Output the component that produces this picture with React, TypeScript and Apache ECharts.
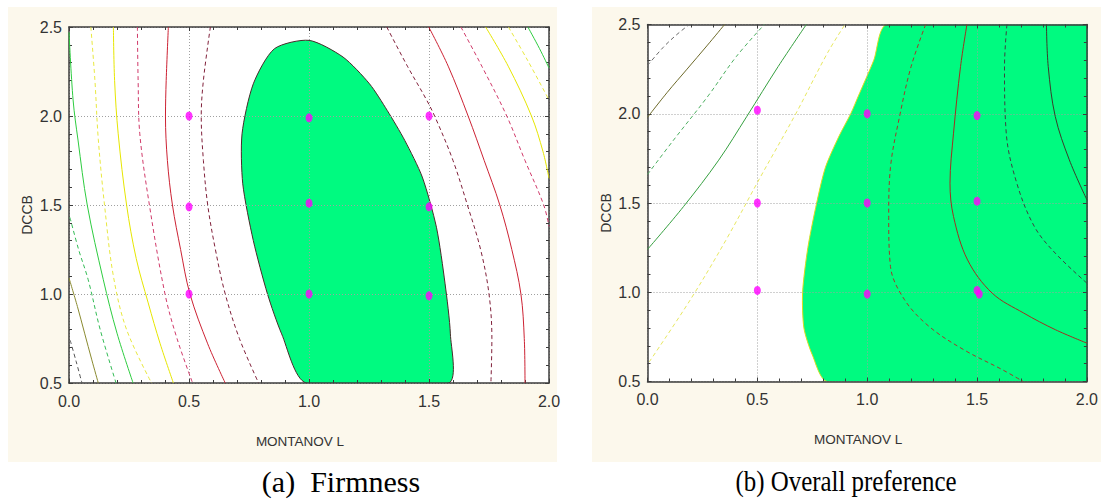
import React, { useEffect, useRef } from "react";
import * as echarts from "echarts";

// ---- axis ranges / ticks ----
const X_MIN = 0;
const X_MAX = 2;
const Y_MIN = 0.5;
const Y_MAX = 2.5;
const TICK_STEP = 0.5;
const X_NAME = "MONTANOV L";
const Y_NAME = "DCCB";
const CAPTION_A = "(a)  Firmness";
const CAPTION_B = "(b) Overall preference";

// ---- (a) Firmness: contour lines [x, y] ----
const firmOliveSolid = [[0, 1.09], [0.035, 0.93], [0.065, 0.78], [0.095, 0.63], [0.122, 0.5]];
const firmGreyDashed = [[0.005, 0.74], [0.03, 0.62], [0.054, 0.5]];
const firmGreenSolid = [[0, 2.47], [0.017, 2.09], [0.0375, 1.865], [0.076, 1.5], [0.143, 1.08], [0.2, 0.78], [0.267, 0.5]];
const firmGreenDashed = [[0.004, 1.43], [0.04, 1.25], [0.08, 1.08], [0.13, 0.8], [0.196, 0.5]];
const firmYellowDashed = [[0.091, 2.5], [0.108, 2.2], [0.122, 1.87], [0.148, 1.5], [0.185, 1.1], [0.24, 0.8], [0.344, 0.5]];
const firmYellowSolid = [[0.185, 2.5], [0.19, 2.2], [0.205, 1.9], [0.24, 1.5], [0.28, 1.2], [0.33, 0.95], [0.38, 0.72], [0.435, 0.5]];
const firmPinkDashed = [[0.285, 2.5], [0.288, 2.2], [0.295, 1.9], [0.335, 1.5], [0.4, 1.0], [0.45, 0.75], [0.515, 0.5]];
const firmRedSolid = [[0.414, 2.5], [0.405, 2.2], [0.402, 2.0], [0.41, 1.75], [0.431, 1.5], [0.465, 1.25], [0.504, 1.0], [0.578, 0.72], [0.651, 0.5]];
const firmMaroonDashed = [[0.589, 2.5], [0.56, 2.2], [0.551, 2.0], [0.56, 1.75], [0.578, 1.5], [0.61, 1.25], [0.651, 1.0], [0.71, 0.75], [0.79, 0.5]];
const firmMaroonDashed2 = [[1.324, 2.5], [1.41, 2.28], [1.49, 2.09], [1.53, 1.98], [1.6, 1.75], [1.66, 1.5], [1.715, 1.25], [1.75, 1.0], [1.762, 0.75], [1.758, 0.5]];
const firmRedSolid2 = [[1.499, 2.5], [1.58, 2.28], [1.663, 2.0], [1.73, 1.75], [1.795, 1.5], [1.845, 1.25], [1.883, 1.0], [1.897, 0.75], [1.9, 0.5]];
const firmPinkDashed2 = [[1.633, 2.5], [1.72, 2.28], [1.824, 2.0], [1.9, 1.75], [1.978, 1.5], [2.0, 1.38]];
const firmYellowSolid2 = [[1.736, 2.5], [1.83, 2.28], [1.927, 2.0], [1.975, 1.8], [2.0, 1.65]];
const firmYellowDashed2 = [[1.831, 2.5], [1.912, 2.31], [2.0, 2.09]];
const firmGreenSolid2 = [[1.912, 2.5], [1.96, 2.38], [2.0, 2.27]];
// optimum (filled) region of (a)
const firmRegion = [
  [0.856, 2.378], [1.0, 2.425], [1.142, 2.331], [1.252, 2.181], [1.326, 2.031], [1.399, 1.863],
  [1.472, 1.657], [1.531, 1.375], [1.567, 1.057], [1.589, 0.776], [1.582, 0.5], [0.988, 0.5],
  [0.886, 0.776], [0.827, 1.0], [0.768, 1.3], [0.724, 1.619], [0.721, 1.9], [0.768, 2.181],
];
const firmPoints = [[0.5, 2.0], [1.0, 1.99], [1.5, 2.0], [0.5, 1.49], [1.0, 1.51], [1.5, 1.49], [0.5, 1.0], [1.0, 1.0], [1.5, 0.99]];

// ---- (b) Overall preference ----
const prefOliveSolid = [[0, 1.98], [0.09, 2.12], [0.18, 2.25], [0.27, 2.38], [0.351, 2.5]];
const prefGreyDashed = [[0, 2.27], [0.07, 2.37], [0.13, 2.44], [0.19, 2.5]];
const prefGreenDashed = [[0, 1.66], [0.117, 1.85], [0.276, 2.1], [0.404, 2.32], [0.532, 2.5]];
const prefGreenSolid = [[0, 1.24], [0.164, 1.48], [0.324, 1.74], [0.452, 1.985], [0.595, 2.265], [0.723, 2.5]];
const prefYellowDashed = [[0.008, 0.61], [0.196, 0.96], [0.356, 1.29], [0.516, 1.65], [0.675, 2.0], [0.819, 2.34], [0.899, 2.5]];
const prefBoundary = [[1.09, 2.5], [1.03, 2.3], [0.96, 2.1], [0.925, 2.0], [0.87, 1.87], [0.81, 1.7], [0.77, 1.5], [0.73, 1.25], [0.706, 1.0], [0.712, 0.8], [0.75, 0.65], [0.819, 0.5]];
const prefRedDashed = [[1.266, 2.5], [1.2, 2.265], [1.15, 2.0], [1.106, 1.7], [1.098, 1.42], [1.106, 1.144], [1.17, 0.958], [1.282, 0.808], [1.441, 0.677], [1.617, 0.565], [1.71, 0.5]];
const prefRedSolid = [[1.454, 2.5], [1.425, 2.265], [1.393, 1.891], [1.377, 1.611], [1.393, 1.424], [1.457, 1.181], [1.569, 0.995], [1.713, 0.883], [1.857, 0.79], [2.0, 0.715]];
const prefDarkDashed = [[1.636, 2.5], [1.625, 2.265], [1.633, 1.891], [1.681, 1.611], [1.761, 1.368], [1.856, 1.219], [2.0, 1.051]];
const prefDarkSolid = [[1.816, 2.5], [1.824, 2.265], [1.856, 1.985], [1.92, 1.742], [2.0, 1.518]];
const prefPoints = [[0.5, 2.02], [1.0, 2.0], [1.5, 1.99], [0.5, 1.5], [1.0, 1.5], [1.5, 1.51], [0.5, 1.01], [1.0, 0.99], [1.5, 1.01], [1.51, 0.99]];

// ---- styles ----
const SANS = "'Liberation Sans', Arial, sans-serif";
const SERIF = "'Liberation Serif', 'Times New Roman', serif";
const AXIS_COLOR = "#3c3c3c";
const GRID_COLOR = "#a0a0a0";
const FILL = "#00fa80";
const CREAM = "#fcf8ec";

function xAxes(gridIndex: number) {
  const common = {
    type: "value", gridIndex, min: X_MIN, max: X_MAX, interval: TICK_STEP, z: 3,
    axisLine: { show: true, onZero: false, lineStyle: { color: AXIS_COLOR, width: 1.5 } },
    axisTick: { show: true, inside: true, length: 4, lineStyle: { color: AXIS_COLOR } },
    minorTick: { show: true, splitNumber: 5, length: 3, lineStyle: { color: AXIS_COLOR } },
  };
  return [
    {
      ...common, position: "bottom",
      splitLine: { show: true, lineStyle: { color: GRID_COLOR, type: [1, 2], width: 1 } },
      axisLabel: { formatter: (v: number) => v.toFixed(1), fontFamily: SANS, fontSize: 16, color: "#333", margin: 10 },
      name: X_NAME, nameLocation: "middle", nameGap: 51,
      nameTextStyle: { fontFamily: SANS, fontSize: 13.5, color: "#333", padding: [0, 18, 0, 0] },
    },
    { ...common, position: "top", axisLabel: { show: false }, splitLine: { show: false } },
  ];
}

function yAxes(gridIndex: number) {
  const common = {
    type: "value", gridIndex, min: Y_MIN, max: Y_MAX, interval: TICK_STEP, z: 3,
    axisLine: { show: true, onZero: false, lineStyle: { color: AXIS_COLOR, width: 1.5 } },
    axisTick: { show: true, inside: true, length: 4, lineStyle: { color: AXIS_COLOR } },
    minorTick: { show: true, splitNumber: 5, length: 3, lineStyle: { color: AXIS_COLOR } },
  };
  return [
    {
      ...common, position: "left",
      splitLine: { show: true, lineStyle: { color: GRID_COLOR, type: [1, 2], width: 1 } },
      axisLabel: { formatter: (v: number) => v.toFixed(1), fontFamily: SANS, fontSize: 16, color: "#333", margin: 7 },
      name: Y_NAME, nameLocation: "middle", nameGap: 35, nameRotate: 90,
      nameTextStyle: { fontFamily: SANS, fontSize: 14, color: "#333", padding: [0, 20, 0, 0] },
    },
    { ...common, position: "right", axisLabel: { show: false }, splitLine: { show: false } },
  ];
}

function contour(data: number[][], color: string, dashed: boolean, axisIndex: number) {
  return {
    type: "line", data, xAxisIndex: axisIndex, yAxisIndex: axisIndex, showSymbol: false, symbol: "none",
    smooth: 0.35, clip: true, silent: true, z: 5,
    lineStyle: { color, width: 1, type: dashed ? [4, 3] : "solid" },
  };
}

function region(points: number[][], axisIndex: number, stroke: string) {
  return {
    type: "custom", xAxisIndex: axisIndex, yAxisIndex: axisIndex, clip: true, silent: true, z: 2,
    data: [points[0]],
    renderItem: (_p: any, api: any) => ({
      type: "polygon",
      shape: { points: points.map((pt) => api.coord(pt)), smooth: 0.25 },
      style: { fill: FILL, stroke, lineWidth: 1 },
    }),
  };
}

function dots(data: number[][], axisIndex: number) {
  return {
    type: "scatter", data, xAxisIndex: axisIndex, yAxisIndex: axisIndex, symbol: "circle",
    symbolSize: [7, 9], itemStyle: { color: "#ff00ff" }, z: 6, silent: true,
  };
}

const option: any = {
  animation: false,
  backgroundColor: "#ffffff",
  graphic: [
    { type: "rect", z: -10, silent: true, shape: { x: 8, y: 7, width: 549, height: 455 }, style: { fill: CREAM } },
    { type: "rect", z: -10, silent: true, shape: { x: 592, y: 7, width: 509, height: 455 }, style: { fill: CREAM } },
    {
      type: "text", x: 341, y: 481, silent: true,
      style: { text: CAPTION_A, fontFamily: SERIF, fontSize: 30, fill: "#000", align: "center", verticalAlign: "middle" },
    },
    {
      type: "text", x: 846, y: 481, scaleX: 0.83, silent: true,
      style: { text: CAPTION_B, fontFamily: SERIF, fontSize: 30, fill: "#000", align: "center", verticalAlign: "middle" },
    },
  ],
  grid: [
    { show: true, left: 69, top: 27, width: 480, height: 356, backgroundColor: "#ffffff", borderWidth: 0 },
    { show: true, left: 647.5, top: 24.5, width: 441, height: 357, backgroundColor: "#ffffff", borderWidth: 0 },
  ],
  xAxis: [...xAxes(0), ...xAxes(1)],
  yAxis: [...yAxes(0), ...yAxes(1)],
  series: [
    // (a)
    region(firmRegion, 0, "#4a2a2a"),
    contour(firmOliveSolid, "#8a8a30", false, 0),
    contour(firmGreyDashed, "#555555", true, 0),
    contour(firmGreenSolid, "#2ecc40", false, 0),
    contour(firmGreenDashed, "#33bb55", true, 0),
    contour(firmYellowDashed, "#e8e840", true, 0),
    contour(firmYellowSolid, "#e6e600", false, 0),
    contour(firmPinkDashed, "#d03a6a", true, 0),
    contour(firmRedSolid, "#cc2233", false, 0),
    contour(firmMaroonDashed, "#80203a", true, 0),
    contour(firmMaroonDashed2, "#80203a", true, 0),
    contour(firmRedSolid2, "#cc2233", false, 0),
    contour(firmPinkDashed2, "#d03a6a", true, 0),
    contour(firmYellowSolid2, "#e6e600", false, 0),
    contour(firmYellowDashed2, "#e8e840", true, 0),
    contour(firmGreenSolid2, "#2ecc40", false, 0),
    dots(firmPoints, 0),
    // (b)
    region([...prefBoundary, [X_MAX, Y_MIN], [X_MAX, Y_MAX]], 2, "#d8dc20"),
    contour(prefOliveSolid, "#6e6a2a", false, 2),
    contour(prefGreyDashed, "#6a6a6a", true, 2),
    contour(prefGreenDashed, "#4caf60", true, 2),
    contour(prefGreenSolid, "#36a040", false, 2),
    contour(prefYellowDashed, "#e8e860", true, 2),
    contour(prefRedDashed, "#a03a2a", true, 2),
    contour(prefRedSolid, "#a03020", false, 2),
    contour(prefDarkDashed, "#404040", true, 2),
    contour(prefDarkSolid, "#3c3c2a", false, 2),
    dots(prefPoints, 2),
  ],
};

export default function App() {
  const ref = useRef<HTMLDivElement>(null);
  useEffect(() => {
    const chart = echarts.init(ref.current as HTMLDivElement, null, { renderer: "svg" });
    chart.setOption(option);
    return () => chart.dispose();
  }, []);
  return <div ref={ref} style={{ position: "absolute", left: 0, top: 0, width: 1101, height: 503 }} />;
}
